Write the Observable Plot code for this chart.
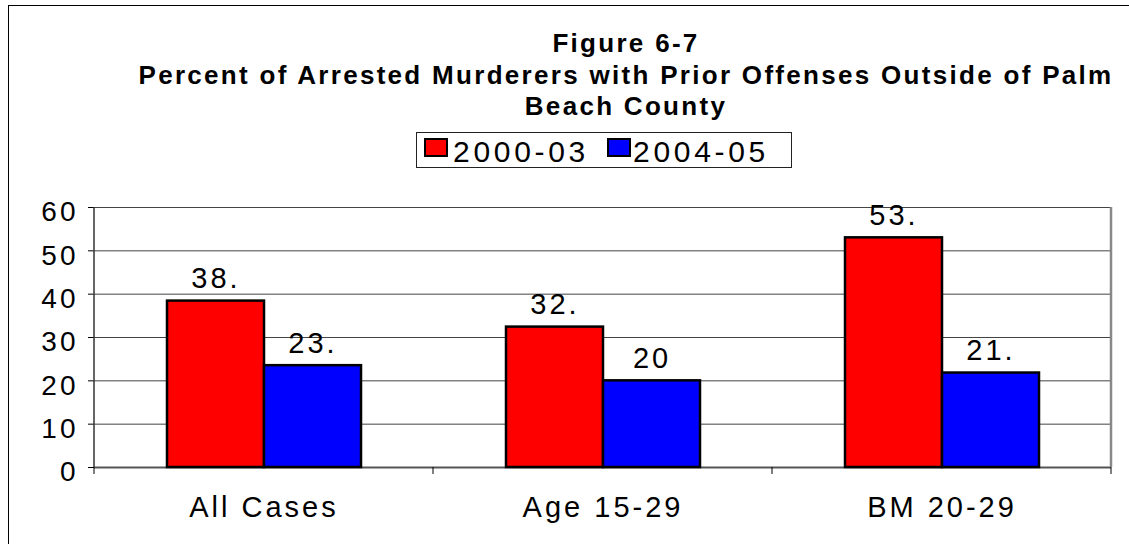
<!DOCTYPE html>
<html><head><meta charset="utf-8">
<script src="https://cdn.jsdelivr.net/npm/d3@7"></script>
<script src="https://cdn.jsdelivr.net/npm/@observablehq/plot@0.6"></script>
<style>
body{margin:0;background:#fff;font-family:"Liberation Sans",Arial,sans-serif;}
#wrap{position:relative;width:1129px;height:544px;overflow:hidden;background:#fff;}
#frame{position:absolute;left:8px;top:5px;right:-10px;bottom:-10px;border:1px solid #000;}
.title{position:absolute;left:126px;width:1000px;text-align:center;font-weight:bold;font-size:26px;letter-spacing:2.3px;line-height:1;white-space:nowrap;color:#000;}
#legend{position:absolute;left:416px;top:132px;width:374px;height:34px;border:1px solid #222;}
.sw{position:absolute;width:20px;height:15px;border:2px solid #000;}
.lt{position:absolute;font-size:30px;letter-spacing:3.7px;line-height:1;white-space:nowrap;color:#000;}
#chart{position:absolute;left:0;top:180px;}
#chart svg text{letter-spacing:3px;}
</style></head>
<body><div id="wrap"><div id="frame"></div><div id="titles"></div><div id="legend"></div><div id="chart"></div></div>
<script>
const titleLines = ["Figure 6-7", "Percent of Arrested Murderers with Prior Offenses Outside of Palm", "Beach County"];
const categories = ["All Cases", "Age 15-29", "BM 20-29"];
const seriesNames = ["2000-03", "2004-05"];
const seriesColors = ["#ff0000", "#0000ff"];
const values2000 = [38.4, 32.4, 53.0];
const values2004 = [23.5, 20.0, 21.8];
const labels2000 = ["38.", "32.", "53."];
const labels2004 = ["23.", "20", "21."];
const yTicks = [0, 10, 20, 30, 40, 50, 60];

// titles
const titleTops = [30, 62, 93];
const titles = document.getElementById("titles");
titleLines.forEach((t, i) => {
  const d = document.createElement("div");
  d.className = "title"; d.style.top = titleTops[i] + "px"; d.textContent = t;
  titles.appendChild(d);
});

// legend
const legend = document.getElementById("legend");
const swLeft = [7, 190], txLeft = [36, 216];
seriesNames.forEach((s, i) => {
  const sw = document.createElement("div");
  sw.className = "sw"; sw.style.left = swLeft[i] + "px"; sw.style.top = "5px"; sw.style.background = seriesColors[i];
  legend.appendChild(sw);
  const tx = document.createElement("div");
  tx.className = "lt"; tx.style.left = txLeft[i] + "px"; tx.style.top = "4px"; tx.textContent = s;
  legend.appendChild(tx);
});

const data = categories.flatMap((c, i) => [
  {category: c, series: seriesNames[0], value: values2000[i], label: labels2000[i]},
  {category: c, series: seriesNames[1], value: values2004[i], label: labels2004[i]}
]);

const chart = Plot.plot({
  width: 1129, height: 364,
  marginLeft: 94, marginRight: 18, marginTop: 27, marginBottom: 77,
  style: {fontFamily: "Liberation Sans, Arial, sans-serif", background: "transparent", overflow: "visible", color: "#000"},
  fx: {domain: categories, padding: 0, label: null},
  x: {domain: seriesNames, paddingInner: 0, paddingOuter: 0.74, axis: null},
  y: {domain: [0, 60], label: null},
  color: {domain: seriesNames, range: seriesColors},
  marks: [
    Plot.ruleY(yTicks.filter(d => d > 0), {stroke: "#444", strokeWidth: 1}),
    Plot.ruleY([0], {stroke: "#555", strokeWidth: 2}),
    Plot.barY(data, {fx: "category", x: "series", y: "value", fill: "series", stroke: "#000", strokeWidth: 2.5}),
    Plot.text(data, {fx: "category", x: "series", y: "value", text: "label", lineAnchor: "bottom", dy: -13, fontSize: 29, fill: "#000"}),
    Plot.axisY({ticks: yTicks, tickSize: 6, tickFormat: () => "", label: null, stroke: "#000"}),
    Plot.axisY({ticks: yTicks, tickSize: 0, tickPadding: 16, dy: 5, fontSize: 28, label: null}),
    Plot.axisFx({anchor: "bottom", tickSize: 0, tickPadding: 29, fontSize: 29, label: null})
  ]
});
document.getElementById("chart").appendChild(chart);

// axis lines and boundary ticks, positioned from the chart's own scales
const fx = chart.scale("fx"), y = chart.scale("y");
const y0 = y.apply(0), yTop = y.apply(60);
const bounds = categories.map(c => fx.apply(c));
const step = fx.bandwidth !== undefined ? fx.bandwidth : (bounds[1] - bounds[0]);
bounds.push(bounds[bounds.length - 1] + step);
const g = d3.select(chart).append("g");
g.selectAll("line.tk").data(bounds).join("line")
  .attr("x1", d => d).attr("x2", d => d).attr("y1", y0).attr("y2", y0 + 7)
  .attr("stroke", "#000").attr("stroke-width", 1);
g.append("line").attr("x1", bounds[0]).attr("x2", bounds[0]).attr("y1", yTop).attr("y2", y0)
  .attr("stroke", "#333").attr("stroke-width", 1.5);
g.append("line").attr("x1", bounds[3]).attr("x2", bounds[3]).attr("y1", yTop).attr("y2", y0)
  .attr("stroke", "#888").attr("stroke-width", 2.5);
</script></body></html>
